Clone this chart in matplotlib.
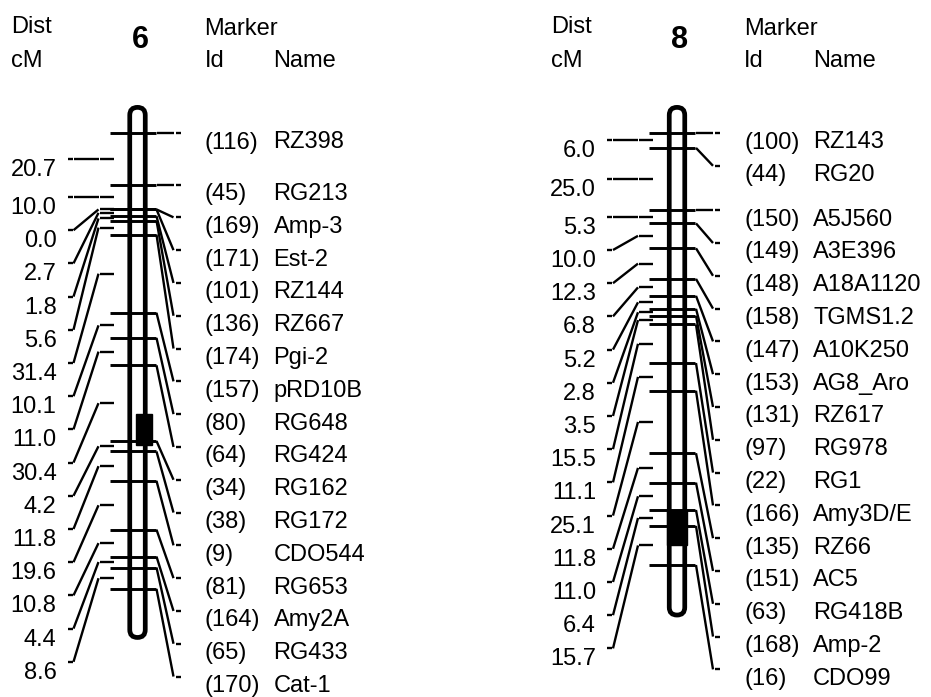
import matplotlib
matplotlib.use('Agg')
import matplotlib.pyplot as plt
from matplotlib.patches import FancyBboxPatch, Rectangle
import numpy as np

plt.rcParams['font.family'] = ['Liberation Sans', 'DejaVu Sans']

# linkage group 6
chr6_ids = [116, 45, 169, 171, 101, 136, 174, 157, 80, 64, 34, 38, 9, 81, 164, 65, 170]
chr6_names = ['RZ398', 'RG213', 'Amp-3', 'Est-2', 'RZ144', 'RZ667', 'Pgi-2', 'pRD10B',
              'RG648', 'RG424', 'RG162', 'RG172', 'CDO544', 'RG653', 'Amy2A', 'RG433', 'Cat-1']
chr6_dist = [20.7, 10.0, 0.0, 2.7, 1.8, 5.6, 31.4, 10.1, 11.0, 30.4, 4.2, 11.8, 19.6,
             10.8, 4.4, 8.6]
chr6_extent = (-11.2, 203.5)    # chromosome body, cM
chr6_block = (112.9, 125.3)     # dark segment, cM

# linkage group 8
chr8_ids = [100, 44, 150, 149, 148, 158, 147, 153, 131, 97, 22, 166, 135, 151, 63, 168, 16]
chr8_names = ['RZ143', 'RG20', 'A5J560', 'A3E396', 'A18A1120', 'TGMS1.2', 'A10K250',
              'AG8_Aro', 'RZ617', 'RG978', 'RG1', 'Amy3D/E', 'RZ66', 'AC5', 'RG418B',
              'Amp-2', 'CDO99']
chr8_dist = [6.0, 25.0, 5.3, 10.0, 12.3, 6.8, 5.2, 2.8, 3.5, 15.5, 11.1, 25.1, 11.8,
             11.0, 6.4, 15.7]
chr8_extent = (-11.2, 194.5)
chr8_block = (151.4, 165.5)

TOP = 133.0      # pixel row of 0 cM
SCALE = 2.49     # pixels per cM
ROW_R = 32.8     # min spacing of marker label rows
ROW_L = 33.2     # min spacing of distance label rows
FS = 17


def spread(ys, step):
    out = []
    for y in ys:
        out.append(y if not out else max(y, out[-1] + step))
    return out


def draw_group(ax, c, title, ids, names, dist, extent, block, fill_full):
    pos = np.concatenate([[0.0], np.cumsum(dist)])
    ym = TOP + pos * SCALE

    # header
    ax.text(c - 126, 33, 'Dist', fontsize=FS, va='baseline')
    ax.text(c - 126, 67, 'cM', fontsize=FS, va='baseline')
    ax.text(c + 2.5, 48, title, fontsize=22, fontweight='bold', ha='center', va='baseline')
    ax.text(c + 67, 35, 'Marker', fontsize=FS, va='baseline')
    ax.text(c + 67, 67, 'Id', fontsize=FS, va='baseline')
    ax.text(c + 136, 67, 'Name', fontsize=FS, va='baseline')

    # chromosome body
    y0 = TOP + extent[0] * SCALE + 2.25
    y1 = TOP + extent[1] * SCALE - 2.25
    w = 15.5
    body = FancyBboxPatch((c - w / 2, y0), w, y1 - y0,
                          boxstyle='round,pad=0,rounding_size=%f' % (w / 2),
                          facecolor='white', edgecolor='black', linewidth=3.4, zorder=2)
    ax.add_patch(body)
    b0 = TOP + block[0] * SCALE
    b1 = TOP + block[1] * SCALE
    if fill_full:
        ax.add_patch(Rectangle((c - 10, b0), 20, b1 - b0, color='black', zorder=3))
    else:
        ax.add_patch(Rectangle((c - 1.5, b0), 16, b1 - b0, color='black', zorder=3))

    # markers and right labels
    rows = spread(ym, ROW_R)
    for y, r, i, n in zip(ym, rows, ids, names):
        ax.plot([c - 28, c + 18], [y, y], color='black', lw=2.1, solid_capstyle='butt', zorder=4)
        ax.plot([c + 19, c + 36], [y, r], color='black', lw=1.7, solid_capstyle='butt', zorder=4)
        ax.plot([c + 38, c + 43], [r, r], color='black', lw=1.7, solid_capstyle='butt', zorder=4)
        ax.text(c + 67, r + 15.5, '(%d)' % i, fontsize=FS, va='baseline')
        ax.text(c + 136, r + 15.5, n, fontsize=FS, va='baseline')

    # intervals and left labels
    mids = (ym[:-1] + ym[1:]) / 2
    lrows = spread(mids, ROW_L)
    for m, r, d in zip(mids, lrows, dist):
        ax.plot([c - 38, c - 24], [m, m], color='black', lw=1.7, solid_capstyle='butt', zorder=4)
        ax.plot([c - 64, c - 39], [r, m], color='black', lw=1.7, solid_capstyle='butt', zorder=4)
        ax.plot([c - 70, c - 65], [r, r], color='black', lw=1.7, solid_capstyle='butt', zorder=4)
        ax.text(c - 81, r + 17, '%.1f' % d, fontsize=FS, ha='right', va='baseline')


fig = plt.figure(figsize=(9.31, 6.97), dpi=100)
ax = fig.add_axes([0, 0, 1, 1])
ax.set_xlim(0, 931)
ax.set_ylim(697, 0)
ax.axis('off')

draw_group(ax, 137.5, '6', chr6_ids, chr6_names, chr6_dist, chr6_extent, chr6_block, False)
draw_group(ax, 677.0, '8', chr8_ids, chr8_names, chr8_dist, chr8_extent, chr8_block, True)

plt.savefig('out.png', dpi=100)
plt.close()
